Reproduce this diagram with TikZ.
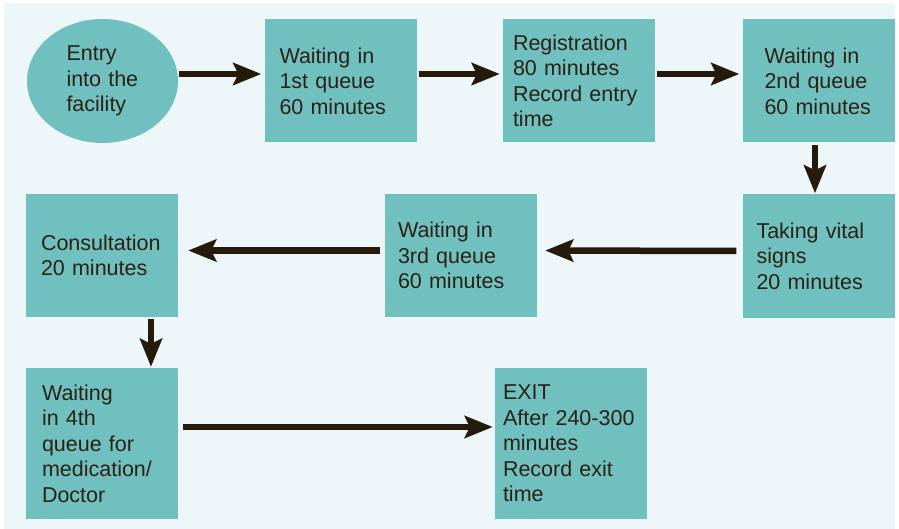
\documentclass[tikz,border=0pt]{standalone}
\usepackage{fontspec}
\setmainfont{Liberation Sans}
\usetikzlibrary{shapes.geometric,arrows.meta}
\definecolor{pagebg}{HTML}{EDF6F8}
\definecolor{boxfill}{HTML}{71C0C0}
\definecolor{ink}{HTML}{2A2114}
\definecolor{arrowc}{HTML}{261A0A}
\begin{document}
\begin{tikzpicture}[x=1pt,y=-1pt,
  box/.style={fill=boxfill, minimum width=152pt, minimum height=123pt, inner xsep=0pt,
              text width=#1, align=left, text=ink, font=\fontsize{21.5}{25.5}\selectfont},
  tallbox/.style={box=#1, minimum height=151pt},
  entrynode/.style={ellipse, fill=boxfill, minimum width=151pt, minimum height=124pt,
              inner sep=0pt, text width=72pt, align=left, text=ink,
              font=\fontsize{21.5}{25.5}\selectfont},
  flow/.style={-{Stealth[length=28pt,width=22pt,inset=5pt]}, line width=6.5pt, draw=arrowc},
  ]
  % ---- frame ---------------------------------------------------------------
  \useasboundingbox (0,0) rectangle (899,529);
  \fill[pagebg] (4,3) rectangle (895,529);
  % ---- first row -----------------------------------------------------------
  \node[entrynode] (entry) at (102.5,81) {Entry\\into the\\facility};
  \node[box=122pt] (wait1) at (340.5,81) {Waiting in\\1st queue\\60 minutes};
  \node[box=132pt] (reg)   at (579,81)   {Registration\\80 minutes\\Record entry\\time};
  \node[box=108pt] (wait2) at (818.5,81) {Waiting in\\2nd queue\\60 minutes};
  % ---- second row ----------------------------------------------------------
  \node[box=124pt] (vital)   at (818.5,256) {Taking vital\\signs\\20 minutes};
  \node[box=126pt] (wait3)   at (461,255.5) {Waiting in\\3rd queue\\60 minutes};
  \node[box=122pt] (consult) at (102,255.5) {Consultation\\20 minutes};
  % ---- third row -----------------------------------------------------------
  \node[tallbox=120pt] (wait4) at (102,443.5) {Waiting\\in 4th\\queue for\\medication/\\Doctor};
  \node[tallbox=136pt] (exit)  at (571,443.5) {EXIT\\After 240-300\\minutes\\Record exit\\time};
  % ---- flow ----------------------------------------------------------------
  \draw[flow, shorten <=1pt, shorten >=3pt] ([yshift=7pt]entry.east) -- ([yshift=7pt]wait1.west);
  \draw[flow, shorten <=2pt, shorten >=3pt] ([yshift=7pt]wait1.east) -- ([yshift=7pt]reg.west);
  \draw[flow, shorten <=2pt, shorten >=3pt] ([yshift=7pt]reg.east) -- ([yshift=7pt]wait2.west);
  \draw[flow, shorten <=2pt, shorten >=1pt] ([xshift=-3.5pt]wait2.south) -- ([xshift=-3.5pt]vital.north);
  \draw[flow, shorten <=6pt, shorten >=8pt] ([yshift=5pt]vital.west) -- ([yshift=5pt]wait3.east);
  \draw[flow, shorten <=5pt, shorten >=10pt] ([yshift=5pt]wait3.west) -- ([yshift=5pt]consult.east);
  \draw[flow, shorten <=2pt, shorten >=1pt] ([xshift=49pt]consult.south) -- ([xshift=49pt]wait4.north);
  \draw[flow, shorten <=5pt, shorten >=2pt] ([yshift=16.5pt]wait4.east) -- ([yshift=16.5pt]exit.west);
\end{tikzpicture}
\end{document}
